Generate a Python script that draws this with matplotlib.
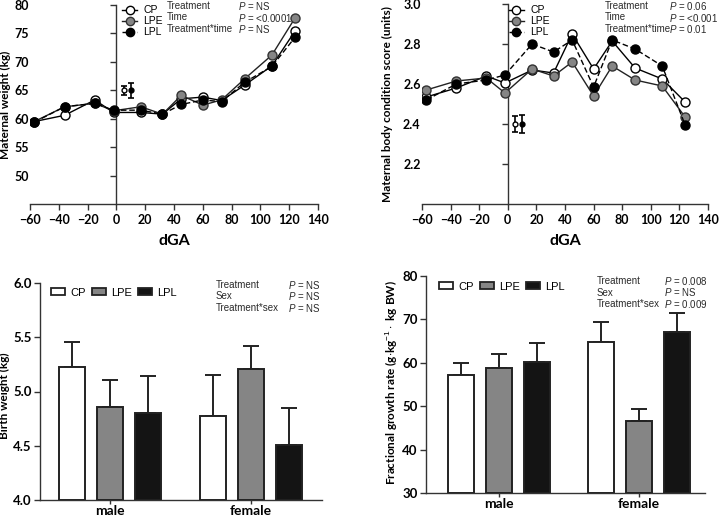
import numpy as np
import matplotlib.pyplot as plt
from matplotlib.lines import Line2D
from matplotlib.patches import Patch

plt.rcParams['font.family'] = ['Lato', 'DejaVu Sans']
plt.rcParams['mathtext.fontset'] = 'custom'
plt.rcParams['mathtext.it'] = 'Liberation Sans:italic'
plt.rcParams['mathtext.rm'] = 'Liberation Sans'
plt.rcParams['mathtext.bf'] = 'Lato:bold'

# Maternal weight and body condition through gestation (days of gestational age)
dga = [-57, -36, -15, -2, 17, 32, 45, 60, 73, 89, 108, 124]
weight_cp = [59.5, 60.6, 63.3, 61.1, 61.1, 60.8, 63.5, 63.8, 63.2, 65.9, 69.3, 75.4]
weight_lpe = [59.5, 62.1, 62.7, 61.4, 62.1, 60.8, 64.1, 62.4, 63.3, 67.0, 71.2, 77.7]
weight_lpl = [59.4, 62.1, 62.7, 61.5, 61.5, 60.8, 62.5, 63.3, 63.0, 66.4, 69.2, 74.3]

bcs_cp = [2.535, 2.58, 2.64, 2.605, 2.67, 2.655, 2.85, 2.675, 2.815, 2.68, 2.625, 2.51]
bcs_lpe = [2.57, 2.615, 2.63, 2.555, 2.675, 2.64, 2.71, 2.54, 2.69, 2.62, 2.59, 2.435]
bcs_lpl = [2.52, 2.60, 2.62, 2.645, 2.80, 2.76, 2.82, 2.585, 2.82, 2.775, 2.69, 2.395]

# pooled SEM bars (CP, LPL) drawn next to the axis
sem_x = [5, 10]
weight_sem_y = [65.0, 65.0]
weight_sem = [0.8, 1.3]
bcs_sem_y = [2.40, 2.40]
bcs_sem = [0.042, 0.045]

# Offspring
sexes = ['male', 'female']
bw_cp = [5.23, 4.77]
bw_cp_err = [0.23, 0.38]
bw_lpe = [4.86, 5.21]
bw_lpe_err = [0.25, 0.21]
bw_lpl = [4.80, 4.51]
bw_lpl_err = [0.34, 0.34]

fgr_cp = [57.1, 64.7]
fgr_cp_err = [2.9, 4.8]
fgr_lpe = [58.9, 46.5]
fgr_lpe_err = [3.2, 2.8]
fgr_lpl = [60.2, 67.1]
fgr_lpl_err = [4.3, 4.4]

W, H = 720, 517
GRAY = '#858585'
DARK = '#141414'
TXT = '#2a2a2a'
AXC = '#333333'


def fx(px):
    return px / W


def fy(py):
    return 1 - py / H


def style_axes(ax):
    for s in ['top', 'right']:
        ax.spines[s].set_visible(False)
    for s in ['left', 'bottom']:
        ax.spines[s].set_linewidth(1.0)
        ax.spines[s].set_color(AXC)
    ax.tick_params(direction='out', length=4, width=1.0, color=AXC)
    for lab in ax.get_xticklabels() + ax.get_yticklabels():
        lab.set_fontweight('bold')


def stats_block(fig, x1, x2, ys, names, pvals, size=7):
    for y, n, p in zip(ys, names, pvals):
        fig.text(fx(x1), fy(y), n, family='Liberation Sans', fontsize=size, va='center', color=TXT)
        fig.text(fx(x2), fy(y), r'$P$ = ' + p, family='Liberation Sans', fontsize=size, va='center', color=TXT)


def line_panel(fig, rect, cp, lpe, lpl, sem_y, sem, ylim, yticks, fmt, ylabel, leg_x):
    ax = fig.add_axes(rect)
    ax.plot(dga, cp, '-o', color='black', lw=1.0, mfc='white', mec='black', ms=6.5, zorder=3)
    ax.plot(dga, lpe, '-o', color='#222222', lw=1.0, mfc=GRAY, mec='#333333', ms=6.5, zorder=4)
    ax.plot(dga, lpl, '--o', color='black', lw=1.0, mfc='black', mec='black', ms=6.5, zorder=5, dashes=(4, 2))
    ax.errorbar(sem_x[0], sem_y[0], yerr=sem[0], fmt='o', ms=3.5, mfc='white', mec='black',
                ecolor='black', elinewidth=1.2, capsize=2.5, capthick=1.2)
    ax.errorbar(sem_x[1], sem_y[1], yerr=sem[1], fmt='o', ms=3.5, mfc='black', mec='black',
                ecolor='black', elinewidth=1.2, capsize=2.5, capthick=1.2)
    ax.set_xlim(-60, 140)
    ax.set_ylim(*ylim)
    ax.set_xticks(np.arange(-60, 141, 20))
    ax.set_yticks(yticks)
    ax.set_yticklabels([fmt.format(v) for v in yticks])
    style_axes(ax)
    # labels stay at the left edge, the axis line itself sits at dGA = 0
    ax.spines['left'].set_visible(False)
    ax.tick_params(axis='both', labelsize=9)
    ax.tick_params(axis='y', length=0, pad=1)
    x0 = (0 - ax.get_xlim()[0]) / (ax.get_xlim()[1] - ax.get_xlim()[0])
    sec = ax.secondary_yaxis(x0)
    sec.set_yticks(yticks)
    sec.set_yticklabels([])
    sec.spines['left'].set_color(AXC)
    sec.spines['left'].set_linewidth(1.0)
    sec.tick_params(direction='out', length=4, width=1.0, color=AXC)
    ax.set_xlabel('dGA', fontsize=11.5, fontweight='bold')
    ax.xaxis.set_label_coords(0.5, -0.15)
    ax.set_ylabel(ylabel, fontsize=8.5, fontweight='bold')
    handles = [
        Line2D([], [], color='black', lw=1.0, marker='o', mfc='white', mec='black', ms=6),
        Line2D([], [], color='#222222', lw=1.0, marker='o', mfc=GRAY, mec='#333333', ms=6),
        Line2D([], [], color='black', lw=1.0, ls='--', marker='o', mfc='black', mec='black', ms=6),
    ]
    ax.legend(handles, ['CP', 'LPE', 'LPL'], loc='upper left', bbox_to_anchor=(fx(leg_x), fy(0)),
              bbox_transform=fig.transFigure, frameon=False, borderpad=0, handlelength=1.4,
              handletextpad=0.6, labelspacing=0.1,
              prop={'family': 'Liberation Sans', 'size': 7.5})
    return ax


def bar_panel(fig, rect, cp, cp_err, lpe, lpe_err, lpl, lpl_err, xlim, ylim, yticks, fmt,
              ylabel, off, width, leg_xy):
    ax = fig.add_axes(rect)
    x = np.arange(len(sexes))
    for dx, vals, errs, col in [(-off, cp, cp_err, 'white'), (0, lpe, lpe_err, GRAY), (off, lpl, lpl_err, DARK)]:
        ax.bar(x + dx, np.array(vals) - ylim[0], width, bottom=ylim[0], color=col, edgecolor='#222222',
               linewidth=1.4, zorder=3)
        ax.errorbar(x + dx, vals, yerr=[np.zeros(len(errs)), errs], fmt='none', ecolor='#222222',
                    elinewidth=1.4, capsize=6, capthick=1.4, zorder=2)
    ax.set_xlim(*xlim)
    ax.set_ylim(*ylim)
    ax.set_xticks(x)
    ax.set_xticklabels(sexes)
    ax.set_yticks(yticks)
    ax.set_yticklabels([fmt.format(v) for v in yticks])
    style_axes(ax)
    ax.tick_params(axis='y', labelsize=9.5, pad=2)
    ax.tick_params(axis='x', labelsize=10, pad=0.5, length=3)
    ax.set_ylabel(ylabel, fontsize=8.5, fontweight='bold')
    handles = [Patch(facecolor=c, edgecolor='#222222', linewidth=1.3) for c in ['white', GRAY, DARK]]
    ax.legend(handles, ['CP', 'LPE', 'LPL'], loc='upper left', ncol=3,
              bbox_to_anchor=(fx(leg_xy[0]), fy(leg_xy[1])), bbox_transform=fig.transFigure,
              frameon=False, borderpad=0, handlelength=1.3, handleheight=0.65,
              handletextpad=0.45, columnspacing=0.55,
              prop={'family': 'Liberation Sans', 'size': 8})
    return ax


fig = plt.figure(figsize=(7.2, 5.17), dpi=100)

ax1 = line_panel(fig, [fx(30), fy(204), 288 / W, 199 / H], weight_cp, weight_lpe, weight_lpl,
                 weight_sem_y, weight_sem, (45, 80), np.arange(50, 81, 5), '{:.0f}',
                 'Maternal weight (kg)', 117)
ax1.yaxis.set_label_coords(-0.066, 0.5)
stats_block(fig, 167, 238, [6, 17.5, 29], ['Treatment', 'Time', 'Treatment*time'],
            ['NS', '<0.0001', 'NS'])

ax2 = line_panel(fig, [fx(422), fy(204), 286 / W, 200 / H], bcs_cp, bcs_lpe, bcs_lpl,
                 bcs_sem_y, bcs_sem, (2.0, 3.0), np.arange(2.2, 3.01, 0.2), '{:.1f}',
                 'Maternal body condition score (units)', 504)
ax2.yaxis.set_label_coords(-0.101, 0.5)
stats_block(fig, 605, 669, [6, 17.5, 29], ['Treatment', 'Time', 'Treatment*time'],
            ['0.06', '<0.001', '0.01'])

ax3 = bar_panel(fig, [fx(40), fy(500), 282 / W, 217 / H], bw_cp, bw_cp_err, bw_lpe, bw_lpe_err,
                bw_lpl, bw_lpl_err, (-0.5, 1.507), (4.0, 6.0), np.arange(4.0, 6.01, 0.5), '{:.1f}',
                'Birth weight (kg)', 0.271, 0.187, (45, 282))
ax3.yaxis.set_label_coords(-0.108, 0.48)
stats_block(fig, 216, 288, [285, 296, 308], ['Treatment', 'Sex', 'Treatment*sex'],
            ['NS', 'NS', 'NS'])

ax4 = bar_panel(fig, [fx(426), fy(493), 279 / W, 217 / H], fgr_cp, fgr_cp_err, fgr_lpe, fgr_lpe_err,
                fgr_lpl, fgr_lpl_err, (-0.521, 1.472), (30, 80), np.arange(30, 81, 10), '{:.0f}',
                r'Fractional growth rate (g$\cdot$kg$^{-1}\cdot$ kg BW)', 0.271, 0.19, (433, 276))
ax4.yaxis.set_label_coords(-0.093, 0.51)
stats_block(fig, 597, 664, [281, 292.5, 304], ['Treatment', 'Sex', 'Treatment*sex'],
            ['0.008', 'NS', '0.009'])

fig.savefig('out.png', dpi=100)
